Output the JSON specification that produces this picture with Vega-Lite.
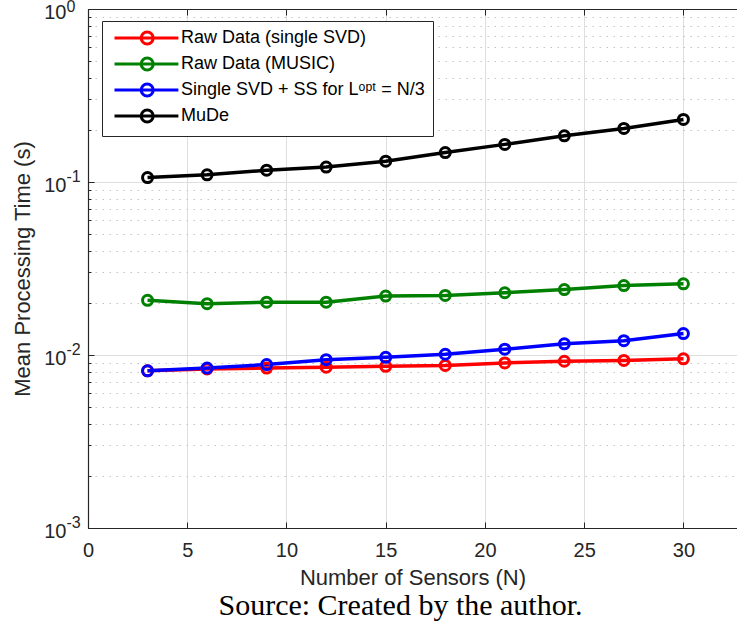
{
  "$schema": "https://vega.github.io/schema/vega-lite/v6.json",
  "width": 649,
  "height": 519,
  "autosize": {"type": "none"},
  "padding": {"left": 88, "top": 9, "right": 0, "bottom": 105},
  "background": "white",
  "config": {
    "view": {"stroke": null},
    "font": "Liberation Sans",
    "axis": {
      "labelFont": "Liberation Sans",
      "titleFont": "Liberation Sans",
      "labelColor": "#262626",
      "titleColor": "#262626",
      "domainColor": "#262626",
      "tickColor": "#262626",
      "titleFontWeight": "normal"
    }
  },
  "title": {
    "text": "Source: Created by the author.",
    "orient": "bottom",
    "anchor": "middle",
    "font": "Liberation Serif",
    "fontSize": 30,
    "fontWeight": "normal",
    "color": "black",
    "offset": 3,
    "dx": -12
  },
  "data": {
    "values": [
      {"N": 3, "t": 0.0081, "method": "Raw Data (single SVD)"},
      {"N": 6, "t": 0.0083, "method": "Raw Data (single SVD)"},
      {"N": 9, "t": 0.0084, "method": "Raw Data (single SVD)"},
      {"N": 12, "t": 0.0085, "method": "Raw Data (single SVD)"},
      {"N": 15, "t": 0.0086, "method": "Raw Data (single SVD)"},
      {"N": 18, "t": 0.0087, "method": "Raw Data (single SVD)"},
      {"N": 21, "t": 0.0090, "method": "Raw Data (single SVD)"},
      {"N": 24, "t": 0.0092, "method": "Raw Data (single SVD)"},
      {"N": 27, "t": 0.0093, "method": "Raw Data (single SVD)"},
      {"N": 30, "t": 0.0095, "method": "Raw Data (single SVD)"},
      {"N": 3, "t": 0.0207, "method": "Raw Data (MUSIC)"},
      {"N": 6, "t": 0.0198, "method": "Raw Data (MUSIC)"},
      {"N": 9, "t": 0.0202, "method": "Raw Data (MUSIC)"},
      {"N": 12, "t": 0.0202, "method": "Raw Data (MUSIC)"},
      {"N": 15, "t": 0.0219, "method": "Raw Data (MUSIC)"},
      {"N": 18, "t": 0.0221, "method": "Raw Data (MUSIC)"},
      {"N": 21, "t": 0.0229, "method": "Raw Data (MUSIC)"},
      {"N": 24, "t": 0.0239, "method": "Raw Data (MUSIC)"},
      {"N": 27, "t": 0.0252, "method": "Raw Data (MUSIC)"},
      {"N": 30, "t": 0.0258, "method": "Raw Data (MUSIC)"},
      {"N": 3, "t": 0.0081, "method": "Single SVD + SS for Lᵒᵖᵗ = N/3"},
      {"N": 6, "t": 0.0084, "method": "Single SVD + SS for Lᵒᵖᵗ = N/3"},
      {"N": 9, "t": 0.0088, "method": "Single SVD + SS for Lᵒᵖᵗ = N/3"},
      {"N": 12, "t": 0.0094, "method": "Single SVD + SS for Lᵒᵖᵗ = N/3"},
      {"N": 15, "t": 0.0097, "method": "Single SVD + SS for Lᵒᵖᵗ = N/3"},
      {"N": 18, "t": 0.0101, "method": "Single SVD + SS for Lᵒᵖᵗ = N/3"},
      {"N": 21, "t": 0.0108, "method": "Single SVD + SS for Lᵒᵖᵗ = N/3"},
      {"N": 24, "t": 0.0116, "method": "Single SVD + SS for Lᵒᵖᵗ = N/3"},
      {"N": 27, "t": 0.0121, "method": "Single SVD + SS for Lᵒᵖᵗ = N/3"},
      {"N": 30, "t": 0.0133, "method": "Single SVD + SS for Lᵒᵖᵗ = N/3"},
      {"N": 3, "t": 0.106, "method": "MuDe"},
      {"N": 6, "t": 0.110, "method": "MuDe"},
      {"N": 9, "t": 0.117, "method": "MuDe"},
      {"N": 12, "t": 0.122, "method": "MuDe"},
      {"N": 15, "t": 0.132, "method": "MuDe"},
      {"N": 18, "t": 0.148, "method": "MuDe"},
      {"N": 21, "t": 0.165, "method": "MuDe"},
      {"N": 24, "t": 0.185, "method": "MuDe"},
      {"N": 27, "t": 0.204, "method": "MuDe"},
      {"N": 30, "t": 0.230, "method": "MuDe"}
    ]
  },
  "layer": [
    {
      "mark": {"type": "line", "strokeWidth": 3.5, "clip": true},
      "encoding": {
        "x": {
          "field": "N",
          "type": "quantitative",
          "scale": {"domain": [0, 32.7], "nice": false, "zero": false},
          "axis": {
            "orient": "bottom",
            "values": [0, 5, 10, 15, 20, 25, 30],
            "title": "Number of Sensors (N)",
            "titleFontSize": 22,
            "titlePadding": 7,
            "labelFontSize": 20,
            "labelPadding": 18,
            "labelFlush": false,
            "tickSize": -6,
            "grid": true,
            "gridColor": "#dedede",
            "gridWidth": 1,
            "domainWidth": 1.2
          }
        },
        "y": {
          "field": "t",
          "type": "quantitative",
          "scale": {"type": "log", "domain": [0.001, 1], "nice": false},
          "axis": {
            "orient": "left",
            "values": [0.001, 0.01, 0.1, 1],
            "labelExpr": "'10'",
            "title": "Mean Processing Time (s)",
            "titleFontSize": 22,
            "titlePadding": 9,
            "labelFontSize": 20,
            "labelPadding": 28,
            "labelOffset": 3,
            "labelFlush": false,
            "tickSize": -6,
            "grid": true,
            "gridColor": "#dedede",
            "gridWidth": 1,
            "domainWidth": 1.2
          }
        },
        "color": {
          "field": "method",
          "type": "nominal",
          "scale": {
            "domain": ["Raw Data (single SVD)", "Raw Data (MUSIC)", "Single SVD + SS for Lᵒᵖᵗ = N/3", "MuDe"],
            "range": ["#ff0000", "#008000", "#0000ff", "#000000"]
          },
          "legend": {
            "title": null,
            "orient": "none",
            "legendX": 14,
            "legendY": 12,
            "padding": 8,
            "strokeColor": "#262626",
            "fillColor": "white",
            "labelFont": "Liberation Sans",
            "labelFontSize": 18,
            "labelColor": "black",
            "labelLimit": 400,
            "labelOffset": 53,
            "rowPadding": 2,
            "symbolType": "M-0.75,0H9.9M3.7,0A1,1 0 1,0 5.7,0A1,1 0 1,0 3.7,0",
            "symbolSize": 144,
            "symbolStrokeWidth": 3,
            "symbolFillColor": "transparent"
          }
        }
      }
    },
    {
      "mark": {"type": "point", "shape": "circle", "filled": false, "size": 100, "strokeWidth": 3, "opacity": 1},
      "encoding": {
        "x": {
          "field": "N",
          "type": "quantitative",
          "axis": {
            "orient": "top",
            "values": [0, 5, 10, 15, 20, 25, 30],
            "labels": false,
            "title": null,
            "grid": false,
            "tickSize": -6,
            "domainWidth": 1.2
          }
        },
        "y": {
          "field": "t",
          "type": "quantitative",
          "axis": {
            "orient": "left",
            "values": [0.001, 0.002, 0.003, 0.004, 0.005, 0.006, 0.007, 0.008, 0.009, 0.01, 0.02, 0.03, 0.04, 0.05, 0.06, 0.07, 0.08, 0.09, 0.1, 0.2, 0.3, 0.4, 0.5, 0.6, 0.7, 0.8, 0.9, 1],
            "labelExpr": "datum.value == 1 ? '0' : datum.value == 0.1 ? '-1' : datum.value == 0.01 ? '-2' : datum.value == 0.001 ? '-3' : ''",
            "labelFontSize": 16,
            "labelAlign": "left",
            "labelPadding": 25,
            "labelOffset": {
              "condition": {"test": "datum.value == 1", "value": -3},
              "value": -6
            },
            "labelFlush": false,
            "labelOverlap": false,
            "title": null,
            "domain": false,
            "tickSize": -3,
            "grid": true,
            "gridColor": "#c4c4c4",
            "gridDash": [1.5, 5.5],
            "gridWidth": 1.2,
            "gridOpacity": {
              "condition": {"test": "datum.value == 1 || datum.value == 0.1 || datum.value == 0.01 || datum.value == 0.001", "value": 0},
              "value": 1
            }
          }
        },
        "color": {
          "field": "method",
          "type": "nominal",
          "legend": null
        }
      }
    }
  ],
  "resolve": {"axis": {"x": "independent", "y": "independent"}}
}
